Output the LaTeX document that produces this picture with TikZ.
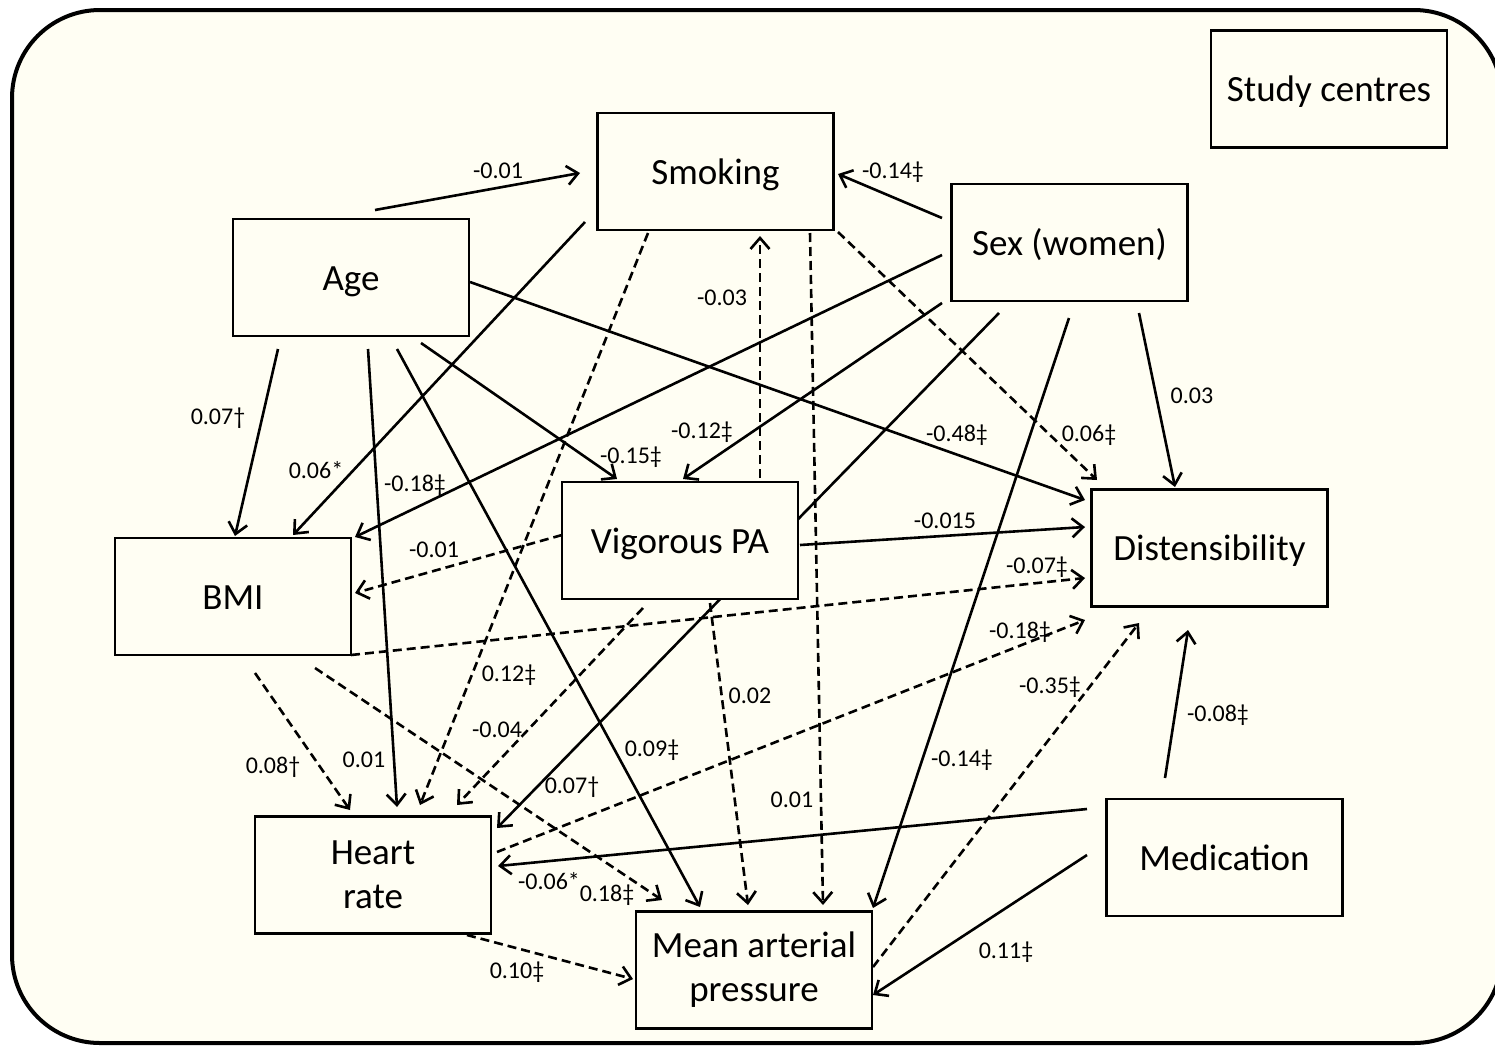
\documentclass[tikz,border=0pt]{standalone}
\usepackage{fontspec}
\setmainfont{Carlito}
\usetikzlibrary{arrows.meta}
\definecolor{cream}{RGB}{255,254,243}
\pgfdeclarelayer{bg}
\pgfdeclarelayer{edges}
\pgfsetlayers{bg,edges,main}
\begin{document}
\begin{tikzpicture}[x=1pt,y=-1pt,
  box/.style={draw=black,line width=2.8pt,fill=cream,minimum width=236pt,minimum height=117pt,inner sep=0pt,align=center,font=\fontsize{37}{44}\selectfont},
  onebox/.style={box,text height=30pt,text depth=5pt},
  lbl/.style={inner sep=0pt,font=\fontsize{24}{28}\selectfont},
  arr/.style={line width=2.6pt,-{Straight Barb[length=11pt,width=19pt,line width=2.6pt]}},
  dsh/.style={arr,dash pattern=on 9pt off 5pt}]
\useasboundingbox (0,0) rectangle (1495,1047);

% nodes
\node[onebox] (sc) at (1329,89) {Study centres};
\node[onebox] (smk) at (715.5,171.5) {Smoking};
\node[onebox] (sex) at (1069.5,242.5) {Sex (women)};
\node[onebox] (age) at (351,277.5) {Age};
\node[onebox] (vpa) at (680,540.5) {Vigorous PA};
\node[onebox] (bmi) at (233,596.5) {BMI};
\node[onebox] (dist) at (1209.5,548) {Distensibility};
\node[box] (hr) at (373,875) {Heart\\rate};
\node[onebox] (med) at (1224.5,857.5) {Medication};
\node[box] (map) at (754,970) {Mean arterial\\pressure};

\begin{pgfonlayer}{bg}
\fill[white] (0,0) rectangle (1495,1047);
\draw[line width=4pt,fill=cream,rounded corners=88pt] (12,10) rectangle (1502,1043);
\end{pgfonlayer}

\begin{pgfonlayer}{edges}
\draw[arr] ([shift={(24,-67.5)}]age.center) -- ([shift={(-135.5,1.5)}]smk.center);
\draw[arr] ([shift={(-73,71.5)}]age.center) -- ([shift={(2,-60.5)}]bmi.center);
\draw[arr] ([shift={(17,71.5)}]age.center) -- ([shift={(24,-68)}]hr.center);
\draw[arr] ([shift={(46,71.5)}]age.center) -- ([shift={(-54,-63)}]map.center);
\draw[arr] ([shift={(70,65.5)}]age.center) -- ([shift={(-63,-61.5)}]vpa.center);
\draw[arr] ([shift={(119,4.5)}]age.center) -- ([shift={(-124.5,-48)}]dist.center);

\draw[arr] ([shift={(-130.5,50.5)}]smk.center) -- ([shift={(60,-61.5)}]bmi.center);
\draw[dsh] ([shift={(-67.5,61.5)}]smk.center) -- ([shift={(47,-70)}]hr.center);
\draw[dsh] ([shift={(94.5,61.5)}]smk.center) -- ([shift={(69,-65)}]map.center);
\draw[dsh] ([shift={(122.5,60.5)}]smk.center) -- ([shift={(-112.5,-68)}]dist.center);

\draw[arr] ([shift={(-127.5,-24.5)}]sex.center) -- ([shift={(122.5,2.5)}]smk.center);
\draw[arr] ([shift={(-127.5,12.5)}]sex.center) -- ([shift={(122,-59.5)}]bmi.center);
\draw[arr] ([shift={(-127.5,60.5)}]sex.center) -- ([shift={(3,-61.5)}]vpa.center);
\draw[arr] ([shift={(-70.5,70.5)}]sex.center) -- ([shift={(124,-47)}]hr.center);
\draw[arr] ([shift={(-0.5,75.5)}]sex.center) -- ([shift={(119,-62)}]map.center);
\draw[arr] ([shift={(69.5,70.5)}]sex.center) -- ([shift={(-34.5,-61)}]dist.center);

\draw[dsh] ([shift={(80,-62.5)}]vpa.center) -- ([shift={(44.5,64.5)}]smk.center);
\draw[dsh] ([shift={(-118,-5.5)}]vpa.center) -- ([shift={(122,-3.5)}]bmi.center);
\draw[arr] ([shift={(120,4.5)}]vpa.center) -- ([shift={(-124.5,-21)}]dist.center);
\draw[dsh] ([shift={(-37,67.5)}]vpa.center) -- ([shift={(84,-70)}]hr.center);
\draw[dsh] ([shift={(30,62.5)}]vpa.center) -- ([shift={(-6,-65)}]map.center);

\draw[dsh] ([shift={(118,58.5)}]bmi.center) -- ([shift={(-124.5,30)}]dist.center);
\draw[dsh] ([shift={(22,76.5)}]bmi.center) -- ([shift={(-23,-65)}]hr.center);
\draw[dsh] ([shift={(82,71.5)}]bmi.center) -- ([shift={(-92,-70)}]map.center);

\draw[dsh] ([shift={(124,-23)}]hr.center) -- ([shift={(-124.5,72)}]dist.center);
\draw[dsh] ([shift={(94,60)}]hr.center) -- ([shift={(-121,9)}]map.center);

\draw[arr] ([shift={(-59.5,-79.5)}]med.center) -- ([shift={(-21.5,82)}]dist.center);
\draw[arr] ([shift={(-137.5,-48.5)}]med.center) -- ([shift={(125,-9)}]hr.center);
\draw[arr] ([shift={(-137.5,-2.5)}]med.center) -- ([shift={(119,25)}]map.center);

\draw[dsh] ([shift={(119,-3)}]map.center) -- ([shift={(-70.5,75)}]dist.center);
\end{pgfonlayer}

% labels
\node[lbl] (l1) at (498,171) {-0.01};
\node[lbl] (l2) at (218,418) {0.07†};
\node[lbl] (l3) at (364,760) {0.01};
\node[lbl] (l4) at (652,750) {0.09‡};
\node[lbl] (l5) at (631,457) {-0.15‡};
\node[lbl] (l6) at (957,435) {-0.48‡};
\node[lbl] (l7) at (316,470) {0.06*};
\node[lbl] (l8) at (509,675) {0.12‡};
\node[lbl] (l9) at (792,800) {0.01};
\node[lbl] (l10) at (1089,435) {0.06‡};
\node[lbl] (l11) at (893,172) {-0.14‡};
\node[lbl] (l12) at (415,485) {-0.18‡};
\node[lbl] (l13) at (702,432) {-0.12‡};
\node[lbl] (l14) at (572,787) {0.07†};
\node[lbl] (l15) at (962,760) {-0.14‡};
\node[lbl] (l16) at (1192,396) {0.03};
\node[lbl] (l17) at (722,298) {-0.03};
\node[lbl] (l18) at (434,550) {-0.01};
\node[lbl] (l19) at (945,521) {-0.015};
\node[lbl] (l20) at (497,730) {-0.04};
\node[lbl] (l21) at (750,696) {0.02};
\node[lbl] (l22) at (1037,567) {-0.07‡};
\node[lbl] (l23) at (273,767) {0.08†};
\node[lbl] (l24) at (607,895) {0.18‡};
\node[lbl] (l25) at (1020,632) {-0.18‡};
\node[lbl] (l26) at (517,972) {0.10‡};
\node[lbl] (l27) at (1218,715) {-0.08‡};
\node[lbl] (l28) at (549,881) {-0.06*};
\node[lbl] (l29) at (1006,952) {0.11‡};
\node[lbl] (l30) at (1050,687) {-0.35‡};
\end{tikzpicture}
\end{document}
